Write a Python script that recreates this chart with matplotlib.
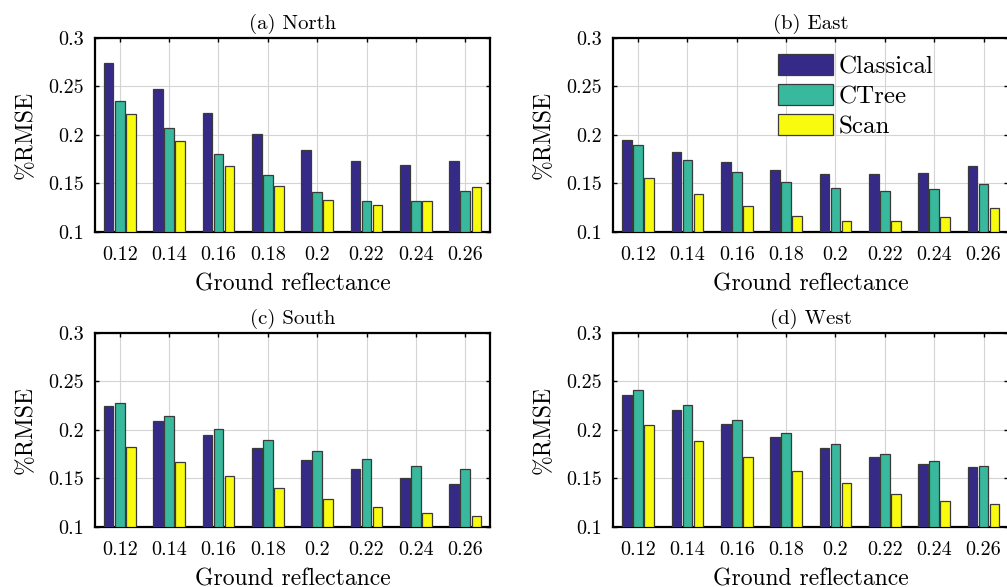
import matplotlib
matplotlib.use('Agg')
import matplotlib.pyplot as plt
import numpy as np

plt.rcParams['font.family'] = ['cmr10', 'DejaVu Serif']
plt.rcParams['axes.formatter.use_mathtext'] = True
plt.rcParams['mathtext.fontset'] = 'cm'

reflectance = [0.12, 0.14, 0.16, 0.18, 0.20, 0.22, 0.24, 0.26]
tick_labels = ['0.12', '0.14', '0.16', '0.18', '0.2', '0.22', '0.24', '0.26']
methods = ['Classical', 'CTree', 'Scan']
titles = ['(a) North', '(b) East', '(c) South', '(d) West']

# %RMSE per orientation, rows = Classical, CTree, Scan
north = [[0.274, 0.247, 0.222, 0.201, 0.184, 0.173, 0.169, 0.1725],
         [0.235, 0.2065, 0.180, 0.158, 0.1405, 0.132, 0.132, 0.142],
         [0.221, 0.193, 0.168, 0.147, 0.133, 0.1275, 0.132, 0.1457]]
east = [[0.195, 0.182, 0.1715, 0.164, 0.1595, 0.159, 0.161, 0.1674],
        [0.189, 0.174, 0.1615, 0.1515, 0.145, 0.142, 0.1436, 0.149],
        [0.155, 0.139, 0.126, 0.116, 0.1107, 0.1107, 0.115, 0.124]]
south = [[0.224, 0.209, 0.1945, 0.181, 0.169, 0.159, 0.1505, 0.144],
         [0.228, 0.214, 0.201, 0.189, 0.178, 0.170, 0.163, 0.159],
         [0.1825, 0.167, 0.1526, 0.140, 0.129, 0.120, 0.1137, 0.111]]
west = [[0.2357, 0.220, 0.2055, 0.1924, 0.1814, 0.172, 0.165, 0.1615],
        [0.241, 0.225, 0.210, 0.197, 0.185, 0.175, 0.168, 0.163],
        [0.205, 0.188, 0.172, 0.157, 0.1447, 0.134, 0.127, 0.1234]]

colors = ['#352a87', '#38b99e', '#f9fb0e']

fig = plt.figure(figsize=(10.07, 5.87), dpi=100)
W, H = 1007.0, 587.0
boxes = [(95, 37.7), (613.3, 37.7), (95, 332.7), (613.3, 332.7)]
aw, ah = 395, 194

bw = 0.0039
step = 0.00446
for k, data in enumerate([north, east, south, west]):
    x0, y0 = boxes[k]
    ax = fig.add_axes([x0 / W, (H - y0 - ah) / H, aw / W, ah / H])
    x = np.array(reflectance)
    for i in range(3):
        ax.bar(x + (i - 1) * step, np.array(data[i]) - 0.1, bw, bottom=0.1,
               color=colors[i], edgecolor='#3a3a3a', linewidth=0.9,
               label=methods[i], zorder=3)
    ax.set_xlim(0.11, 0.27)
    ax.set_ylim(0.1, 0.3)
    ax.set_xticks(reflectance)
    ax.set_xticklabels(tick_labels)
    ax.set_yticks([0.1, 0.15, 0.2, 0.25, 0.3])
    ax.set_yticklabels(['0.1', '0.15', '0.2', '0.25', '0.3'])
    ax.tick_params(direction='in', top=True, right=True, length=3,
                   width=1, labelsize=14.5)
    ax.tick_params(axis='x', pad=10)
    ax.tick_params(axis='y', pad=8)
    ax.grid(True, color='#d4d4d4', linewidth=0.8)
    ax.set_axisbelow(True)
    for s in ax.spines.values():
        s.set_linewidth(1.6)
    ax.set_title(titles[k], fontsize=15, pad=6)
    ax.set_xlabel('Ground reflectance', fontsize=17, labelpad=7)
    ax.set_ylabel('%RMSE', fontsize=17, labelpad=8.5)
    if k == 1:
        ax.legend(loc='upper left', bbox_to_anchor=(0.416, 0.915),
                  frameon=False, fontsize=18, handlelength=2.2,
                  handleheight=0.88, handletextpad=0.25, labelspacing=0.25,
                  borderpad=0, borderaxespad=0)

fig.savefig('out.png', dpi=100)
